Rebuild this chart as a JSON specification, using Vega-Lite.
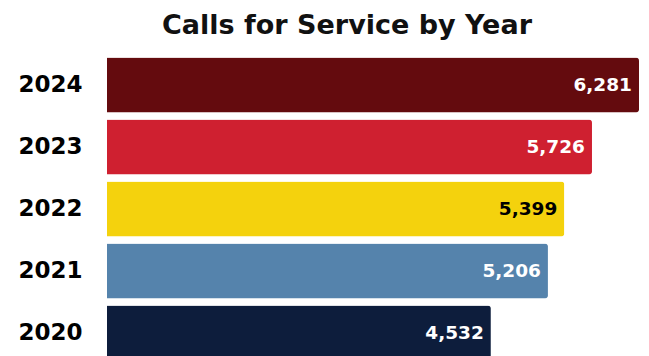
{
  "$schema": "https://vega.github.io/schema/vega-lite/v6.json",
  "autosize": "none",
  "width": 532,
  "height": 310,
  "padding": {"left": 107, "top": 54, "right": 10, "bottom": 0},
  "background": "white",
  "config": {"view": {"stroke": null}},
  "title": {
    "text": "Calls for Service by Year",
    "font": "DejaVu Sans",
    "fontSize": 27,
    "fontWeight": 700,
    "color": "#111111",
    "anchor": "middle",
    "dx": -26,
    "offset": 14
  },
  "data": {
    "values": [
      {"year": "2024", "calls": 6281},
      {"year": "2023", "calls": 5726},
      {"year": "2022", "calls": 5399},
      {"year": "2021", "calls": 5206},
      {"year": "2020", "calls": 4532}
    ]
  },
  "encoding": {
    "y": {
      "field": "year",
      "type": "nominal",
      "sort": "descending",
      "scale": {"paddingInner": 0.113, "paddingOuter": 0.056},
      "axis": {
        "title": null,
        "domain": false,
        "ticks": false,
        "labelFont": "DejaVu Sans",
        "labelFontSize": 23,
        "labelFontWeight": 700,
        "labelColor": "#000000",
        "labelPadding": 25
      }
    },
    "x": {
      "field": "calls",
      "type": "quantitative",
      "scale": {"domain": [0, 6281], "nice": false},
      "axis": null
    }
  },
  "layer": [
    {
      "mark": {"type": "bar", "cornerRadiusEnd": 3},
      "encoding": {
        "color": {
          "field": "year",
          "type": "nominal",
          "scale": {
            "domain": ["2024", "2023", "2022", "2021", "2020"],
            "range": ["#640b0e", "#cf2030", "#f4d20d", "#5583ac", "#0d1d3c"]
          },
          "legend": null
        }
      }
    },
    {
      "mark": {
        "type": "text",
        "align": "right",
        "baseline": "middle",
        "dx": -7,
        "font": "DejaVu Sans",
        "fontSize": 18.5,
        "fontWeight": 700
      },
      "encoding": {
        "text": {"field": "calls", "type": "quantitative", "format": ","},
        "color": {
          "condition": {"test": "datum.year == '2022'", "value": "#000000"},
          "value": "#ffffff"
        }
      }
    }
  ]
}
